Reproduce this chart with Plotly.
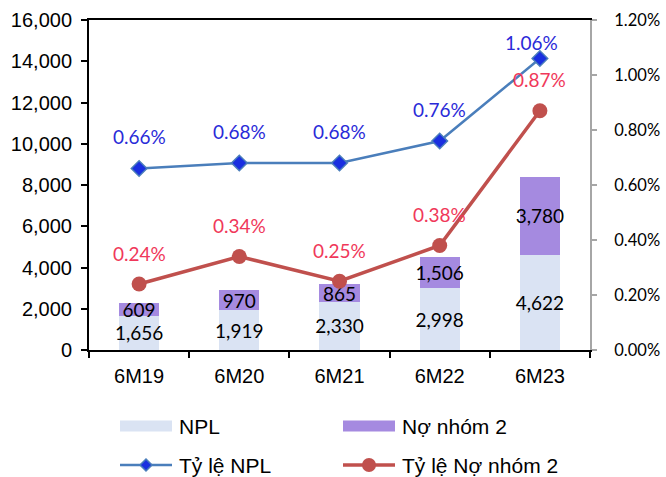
import plotly.graph_objects as go

# Data
periods = ["6M19", "6M20", "6M21", "6M22", "6M23"]
npl = [1656, 1919, 2330, 2998, 4622]
group2 = [609, 970, 865, 1506, 3780]
npl_ratio = [0.0066, 0.0068, 0.0068, 0.0076, 0.0106]
group2_ratio = [0.0024, 0.0034, 0.0025, 0.0038, 0.0087]

C_NPL = "#dae3f3"
C_G2 = "#a58ae0"
C_LINE_BLUE = "#4a7ebb"
C_MARK_BLUE = "#1a2fe0"
C_LINE_RED = "#c0504d"
C_LBL_BLUE = "#2a2ad8"
C_LBL_RED = "#f0385a"

LBL_FONT = "Lato, 'Open Sans', sans-serif"
AX_FONT = "'Liberation Sans', Arial, sans-serif"

fig = go.Figure()

fig.add_trace(go.Bar(
    x=periods, y=npl, name="NPL", marker_color=C_NPL, marker_line_width=0,
    text=[f"{v:,}" for v in npl], textposition="inside", insidetextanchor="middle",
    textangle=0, constraintext="none",
    textfont=dict(family=LBL_FONT, size=19, color="black"),
    showlegend=False,
))
fig.add_trace(go.Bar(
    x=periods, y=group2, name="Nợ nhóm 2", marker_color=C_G2, marker_line_width=0,
    text=[f"{v:,}" for v in group2], textposition="inside", insidetextanchor="middle",
    textangle=0, constraintext="none",
    textfont=dict(family=LBL_FONT, size=19, color="black"),
    showlegend=False,
))
fig.add_trace(go.Scatter(
    x=periods, y=npl_ratio, yaxis="y2", name="Tỷ lệ NPL", mode="lines+markers",
    line=dict(color=C_LINE_BLUE, width=2.5),
    marker=dict(symbol="diamond", size=12, color=C_MARK_BLUE,
                line=dict(color=C_LINE_BLUE, width=1.5)),
    showlegend=False,
))
fig.add_trace(go.Scatter(
    x=periods, y=group2_ratio, yaxis="y2", name="Tỷ lệ Nợ nhóm 2", mode="lines+markers",
    line=dict(color=C_LINE_RED, width=3.5),
    marker=dict(symbol="circle", size=15, color=C_LINE_RED),
    showlegend=False,
))

# Ratio labels above the markers; the last NPL label sits closer to stay inside the plot
npl_label_yshift = [32, 32, 32, 32, 16]
npl_label_xshift = [0, 0, 0, 0, -8]
annotations = []
for p, v, ys, xs in zip(periods, npl_ratio, npl_label_yshift, npl_label_xshift):
    annotations.append(dict(x=p, y=v, yref="y2", text=f"{v*100:.2f}%", showarrow=False,
                            yshift=ys, xshift=xs,
                            font=dict(family=LBL_FONT, size=19, color=C_LBL_BLUE)))
for p, v in zip(periods, group2_ratio):
    annotations.append(dict(x=p, y=v, yref="y2", text=f"{v*100:.2f}%", showarrow=False,
                            yshift=31, font=dict(family=LBL_FONT, size=19, color=C_LBL_RED)))

# Custom legend below the plot (pixel -> paper conversion)
PL, PR, PT, PB = 89, 590, 20, 350
def px(x):
    return (x - PL) / (PR - PL)
def py(y):
    return (PB - y) / (PB - PT)

shapes = []
legend_items = [
    ("NPL", 120, 426, "bar", C_NPL),
    ("Nợ nhóm 2", 343, 426, "bar", C_G2),
    ("Tỷ lệ NPL", 120, 465, "diamond", C_LINE_BLUE),
    ("Tỷ lệ Nợ nhóm 2", 343, 465, "circle", C_LINE_RED),
]
for label, x0, yc, kind, col in legend_items:
    x1 = x0 + 52
    if kind == "bar":
        shapes.append(dict(type="rect", xref="paper", yref="paper",
                           x0=px(x0), x1=px(x1), y0=py(yc + 5.5), y1=py(yc - 5.5),
                           fillcolor=col, line_width=0))
    elif kind == "diamond":
        shapes.append(dict(type="line", xref="paper", yref="paper",
                           x0=px(x0), x1=px(x1), y0=py(yc), y1=py(yc),
                           line=dict(color=col, width=2.5)))
        cx, r = x0 + 26, 6
        path = (f"M {px(cx)},{py(yc - r)} L {px(cx + r)},{py(yc)} "
                f"L {px(cx)},{py(yc + r)} L {px(cx - r)},{py(yc)} Z")
        shapes.append(dict(type="path", xref="paper", yref="paper", path=path,
                           fillcolor=C_MARK_BLUE, line=dict(color=C_LINE_BLUE, width=1.5)))
    else:
        shapes.append(dict(type="line", xref="paper", yref="paper",
                           x0=px(x0), x1=px(x1), y0=py(yc), y1=py(yc),
                           line=dict(color=col, width=3.5)))
        cx, r = x0 + 26, 7
        shapes.append(dict(type="circle", xref="paper", yref="paper",
                           x0=px(cx - r), x1=px(cx + r), y0=py(yc + r), y1=py(yc - r),
                           fillcolor=col, line_width=0))
    annotations.append(dict(xref="paper", yref="paper", x=px(x1 + 5), y=py(yc),
                            xanchor="left", yanchor="middle", text=label, showarrow=False,
                            font=dict(family=AX_FONT, size=21, color="black")))

fig.update_layout(
    width=666, height=477,
    margin=dict(l=PL, r=666 - PR, t=PT, b=477 - PB, autoexpand=False),
    paper_bgcolor="white", plot_bgcolor="white",
    barmode="stack", bargap=0.6,
    showlegend=False,
    xaxis=dict(
        showline=True, linecolor="black", linewidth=2, mirror=True,
        ticks="outside", tickson="boundaries", ticklen=6, tickcolor="black", tickwidth=1.5,
        ticklabelstandoff=7, automargin=False,
        tickfont=dict(family=AX_FONT, size=20, color="black"),
        showgrid=False, zeroline=False,
    ),
    yaxis=dict(
        range=[0, 16000], dtick=2000, tickformat=",",
        showline=True, linecolor="black", linewidth=2,
        ticks="outside", ticklen=6, tickcolor="black", tickwidth=1.5,
        ticklabelstandoff=5, automargin=False,
        tickfont=dict(family=AX_FONT, size=20, color="black"),
        showgrid=False, zeroline=False,
    ),
    yaxis2=dict(
        range=[0, 0.012], dtick=0.002, tickformat=".2%", overlaying="y", side="right",
        showline=True, linecolor="#a6a6a6", linewidth=2,
        ticks="outside", ticklen=5, tickcolor="#a6a6a6", tickwidth=1.5,
        ticklabelstandoff=14, automargin=False,
        tickfont=dict(family=LBL_FONT, size=16.5, color="black"),
        showgrid=False, zeroline=False,
    ),
    shapes=shapes,
    annotations=annotations,
)

fig.write_html("out.html")
